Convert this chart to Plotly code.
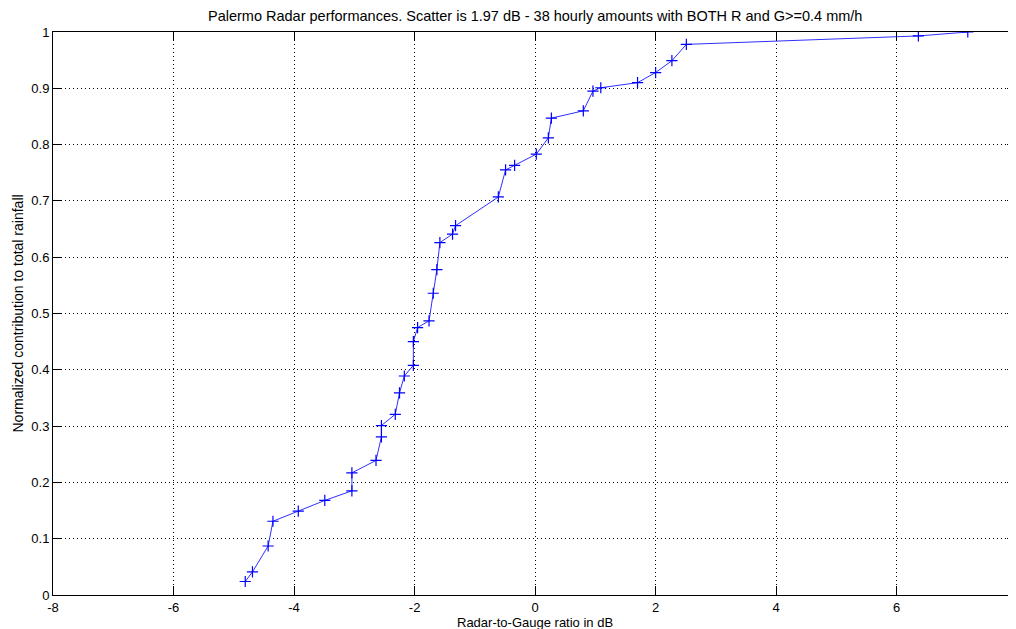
import plotly.graph_objects as go

# Radar-to-gauge ratio (dB), sorted
ratio_db = [-4.81, -4.69, -4.43, -4.35, -3.93, -3.49, -3.04, -3.04, -2.64, -2.55,
            -2.55, -2.32, -2.25, -2.17, -2.02, -2.02, -1.95, -1.76, -1.69, -1.63,
            -1.58, -1.37, -1.32, -0.61, -0.49, -0.34, 0.02, 0.22, 0.27, 0.80,
            0.96, 1.09, 1.70, 2.00, 2.27, 2.51, 6.36, 7.18]
# Normalized cumulative contribution to total rainfall
cum_contrib = [0.024, 0.041, 0.087, 0.131, 0.149, 0.168, 0.185, 0.217, 0.239, 0.281,
               0.301, 0.321, 0.359, 0.389, 0.408, 0.450, 0.475, 0.487, 0.536, 0.578,
               0.626, 0.641, 0.656, 0.707, 0.755, 0.763, 0.783, 0.812, 0.847, 0.860,
               0.895, 0.901, 0.910, 0.928, 0.949, 0.978, 0.993, 1.000]

x_ticks = [-8, -6, -4, -2, 0, 2, 4, 6]
y_ticks = [0, 0.1, 0.2, 0.3, 0.4, 0.5, 0.6, 0.7, 0.8, 0.9, 1]
y_tick_text = ["0", "0.1", "0.2", "0.3", "0.4", "0.5", "0.6", "0.7", "0.8", "0.9", "1"]

title_text = "Palermo Radar performances. Scatter is 1.97 dB - 38 hourly amounts with BOTH R and G>=0.4 mm/h"
x_label = "Radar-to-Gauge ratio in dB"
y_label = "Normalized contribution to total rainfall"

FONT = "Liberation Sans, Arial, sans-serif"

fig = go.Figure()
fig.add_trace(go.Scatter(
    x=ratio_db, y=cum_contrib, mode="lines+markers",
    line=dict(color="#2f2fff", width=1),
    marker=dict(symbol="cross-thin", size=8, line=dict(color="#0000ff", width=1.2), color="#0000ff"),
    showlegend=False,
))

axis_common = dict(
    showline=True, linecolor="#000000", linewidth=1, mirror="ticks",
    ticks="inside", ticklen=9, tickcolor="#000000", tickwidth=1,
    showgrid=True, gridcolor="#000000", griddash="1px,3px", gridwidth=1,
    zeroline=False,
    tickfont=dict(family=FONT, size=13, color="#000000"),
)

fig.update_xaxes(range=[-8, 7.98], tickvals=x_ticks, ticktext=[str(v) for v in x_ticks], **axis_common)
fig.update_yaxes(range=[0, 1], tickvals=y_ticks, ticktext=y_tick_text, **axis_common)

# the page body adds an 8px offset, so the figure is sized to end at the window edge
fig.update_layout(
    width=1008, height=621,
    margin=dict(l=45, r=0, t=24, b=34),
    paper_bgcolor="white", plot_bgcolor="white",
    font=dict(family=FONT, size=13, color="#000000"),
    annotations=[
        dict(text=title_text, xref="paper", yref="paper", x=0.5, y=1, yanchor="bottom",
             yshift=6, showarrow=False, font=dict(family=FONT, size=14.5, color="#000000")),
        dict(text=x_label, xref="paper", yref="paper", x=0.5, y=0, yanchor="top",
             yshift=-18, showarrow=False, font=dict(family=FONT, size=13, color="#000000")),
        dict(text=y_label, xref="paper", yref="paper", x=0, y=0.5, xanchor="center",
             xshift=-36, textangle=-90, showarrow=False, font=dict(family=FONT, size=14, color="#000000")),
    ],
)

fig.write_html("out.html")
